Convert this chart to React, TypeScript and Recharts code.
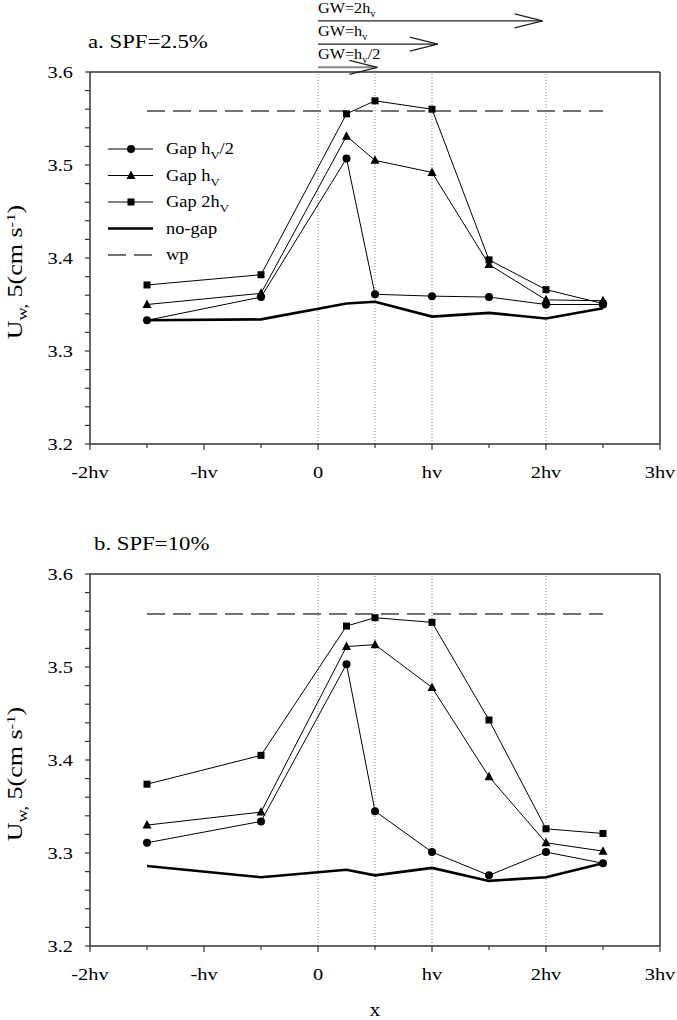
import React from "react";
import { LineChart, Line, XAxis, YAxis, ReferenceLine } from "recharts";

const FONT = '"Liberation Serif", "Times New Roman", serif';
const AXIS = "#333";

// x positions of the profiles, in units of hv
const xPos = [-1.5, -0.5, 0.25, 0.5, 1, 1.5, 2, 2.5];

// a. SPF = 2.5%
const gapHalfA = [3.333, 3.358, 3.507, 3.361, 3.359, 3.358, 3.35, 3.35];
const gapOneA = [3.35, 3.362, 3.531, 3.505, 3.492, 3.393, 3.355, 3.354];
const gapTwoA = [3.371, 3.382, 3.555, 3.569, 3.56, 3.398, 3.366, 3.351];
const noGapA = [3.333, 3.334, 3.351, 3.353, 3.337, 3.341, 3.335, 3.346];
const wpA = [3.558, 3.558, 3.558, 3.558, 3.558, 3.558, 3.558, 3.558];

// b. SPF = 10%
const gapHalfB = [3.311, 3.334, 3.503, 3.345, 3.301, 3.276, 3.301, 3.289];
const gapOneB = [3.33, 3.344, 3.522, 3.524, 3.478, 3.382, 3.311, 3.302];
const gapTwoB = [3.374, 3.405, 3.544, 3.553, 3.548, 3.443, 3.326, 3.321];
const noGapB = [3.286, 3.274, 3.282, 3.276, 3.284, 3.27, 3.274, 3.289];
const wpB = [3.557, 3.557, 3.557, 3.557, 3.557, 3.557, 3.557, 3.557];

const xTicks = [-2, -1.5, -1, -0.5, 0, 0.5, 1, 1.5, 2, 2.5, 3];
const xTickLabels: Record<string, string> = { "-2": "-2hv", "-1": "-hv", "0": "0", "1": "hv", "2": "2hv", "3": "3hv" };
const yLabels = [3.2, 3.3, 3.4, 3.5, 3.6];
const yTicks = Array.from({ length: 21 }, (_, i) => +(3.2 + i * 0.02).toFixed(2));
const gridX = [0, 0.5, 1, 2];

// gap-width arrows above panel a
const gwText = ["2h", "h", "h"];
const gwTail = [0, 0, 0];
const gwTip = [1.97, 1.05, 0.52];
const gwLevel = [3.655, 3.63, 3.605];
const gwColor = ["#222", "#222", "#8a8a8a"];

const makeRows = (h: number[], o: number[], t: number[], n: number[], w: number[]) =>
  xPos.map((x, i) => ({ x, half: h[i], one: o[i], two: t[i], nogap: n[i], wp: w[i] }));

const rowsA = makeRows(gapHalfA, gapOneA, gapTwoA, noGapA, wpA);
const rowsB = makeRows(gapHalfB, gapOneB, gapTwoB, noGapB, wpB);

// the original figure's lettering is a Times face stretched sideways
function SText({ x, y, size, anchor = "start", sx = 1.2, rotate = 0, children }: any) {
  const tr = `translate(${x},${y})${rotate ? ` rotate(${rotate})` : ""} scale(${sx},1)`;
  return (
    <g transform={tr}>
      <text x={0} y={0} textAnchor={anchor} fontSize={size} fontFamily={FONT} fill="#000">
        {children}
      </text>
    </g>
  );
}

const circleDot = (p: any) => <circle key={p.index} cx={p.cx} cy={p.cy} r={4} fill="#000" />;
const squareDot = (p: any) => <rect key={p.index} x={p.cx - 3.5} y={p.cy - 3.5} width={7} height={7} fill="#000" />;
const triDot = (p: any) => (
  <path key={p.index} d={`M${p.cx},${p.cy - 5}L${p.cx + 4.5},${p.cy + 3.5}L${p.cx - 4.5},${p.cy + 3.5}Z`} fill="#000" />
);

const XTick = (p: any) => {
  const v = p.payload.value;
  const major = Number.isInteger(v);
  return (
    <g>
      <line x1={p.x} x2={p.x} y1={p.y} y2={p.y + (major ? 6 : 4)} stroke={AXIS} strokeWidth={1.2} />
      {major && (
        <SText x={p.x} y={p.y + 34} size={17} anchor="middle">
          {xTickLabels[String(v)]}
        </SText>
      )}
    </g>
  );
};

const YTick = (p: any) => {
  const v = p.payload.value;
  const lab = yLabels.find((l) => Math.abs(l - v) < 1e-6);
  return (
    <g>
      <line x1={p.x} x2={p.x - 5} y1={p.y} y2={p.y} stroke={AXIS} strokeWidth={1.2} />
      {lab !== undefined && (
        <SText x={p.x - 17} y={p.y + 6} size={17} anchor="end">
          {lab.toFixed(1)}
        </SText>
      )}
    </g>
  );
};

const YTitle = (p: any) => {
  const vb = p.viewBox;
  return (
    <SText x={22} y={vb.y + vb.height / 2 + 14} size={20} anchor="middle" rotate={-90} sx={1.3}>
      U<tspan fontSize={14} dy={5}>w,</tspan>
      <tspan dy={-5}> 5(cm s</tspan>
      <tspan fontSize={13} dy={-7}>-1</tspan>
      <tspan dy={7}>)</tspan>
    </SText>
  );
};

const XTitle = (p: any) => {
  const vb = p.viewBox;
  return (
    <SText x={vb.x + vb.width / 2} y={vb.y + 70} size={18} anchor="middle">
      x
    </SText>
  );
};

const gwLabel = (i: number) => (p: any) => {
  const vb = p.viewBox;
  return (
    <SText x={vb.x} y={vb.y - 8} size={15} sx={1.08}>
      GW={gwText[i]}
      <tspan fontSize={10} dy={4}>v</tspan>
      {i === 2 && <tspan dy={-4}>/2</tspan>}
    </SText>
  );
};

function Panel({ rows, height, xAxisHeight, showArrows, showX }: any) {
  return (
    <LineChart width={677} height={height} data={rows} margin={{ top: 72, right: 17, left: 0, bottom: 0 }}>
      <XAxis
        dataKey="x"
        type="number"
        domain={[-2, 3]}
        ticks={xTicks}
        interval={0}
        allowDataOverflow
        height={xAxisHeight}
        tickSize={0}
        tickMargin={0}
        tickLine={false}
        tick={<XTick />}
        axisLine={{ stroke: AXIS, strokeWidth: 1.5 }}
        label={showX ? XTitle : undefined}
      />
      <YAxis
        type="number"
        domain={[3.2, 3.6]}
        ticks={yTicks}
        interval={0}
        allowDataOverflow
        width={90}
        tickSize={0}
        tickMargin={0}
        tickLine={false}
        tick={<YTick />}
        axisLine={{ stroke: AXIS, strokeWidth: 1.5 }}
        label={YTitle}
      />
      {gridX.map((g) => (
        <ReferenceLine key={g} x={g} stroke="#888" strokeWidth={1} strokeDasharray="1 2" />
      ))}
      <ReferenceLine y={3.6} stroke={AXIS} strokeWidth={1.5} />
      <ReferenceLine x={3} stroke={AXIS} strokeWidth={1.5} />
      {showArrows &&
        gwTip.map((tip, i) => (
          <ReferenceLine
            key={"gw" + i}
            ifOverflow="visible"
            segment={[{ x: gwTail[i], y: gwLevel[i] }, { x: tip, y: gwLevel[i] }]}
            stroke={gwColor[i]}
            strokeWidth={i === 2 ? 2 : 1.2}
            label={gwLabel(i)}
          />
        ))}
      {showArrows &&
        gwTip.map((tip, i) => (
          <ReferenceLine
            key={"up" + i}
            ifOverflow="visible"
            segment={[{ x: tip - 0.245, y: gwLevel[i] + 0.0075 }, { x: tip, y: gwLevel[i] }]}
            stroke="#222"
            strokeWidth={1.2}
          />
        ))}
      {showArrows &&
        gwTip.map((tip, i) => (
          <ReferenceLine
            key={"dn" + i}
            ifOverflow="visible"
            segment={[{ x: tip - 0.245, y: gwLevel[i] - 0.0075 }, { x: tip, y: gwLevel[i] }]}
            stroke="#222"
            strokeWidth={1.2}
          />
        ))}
      <Line dataKey="wp" stroke="#444" strokeWidth={1.5} strokeDasharray="18 8" dot={false} activeDot={false} isAnimationActive={false} />
      <Line dataKey="nogap" stroke="#000" strokeWidth={2.6} dot={false} activeDot={false} isAnimationActive={false} />
      <Line dataKey="two" stroke="#000" strokeWidth={1} dot={squareDot} activeDot={false} isAnimationActive={false} />
      <Line dataKey="one" stroke="#000" strokeWidth={1} dot={triDot} activeDot={false} isAnimationActive={false} />
      <Line dataKey="half" stroke="#000" strokeWidth={1} dot={circleDot} activeDot={false} isAnimationActive={false} />
    </LineChart>
  );
}

const legendRows = [
  { kind: "circle", text: "Gap h", sub: "V", after: "/2" },
  { kind: "tri", text: "Gap h", sub: "V", after: "" },
  { kind: "square", text: "Gap 2h", sub: "V", after: "" },
  { kind: "thick", text: "no-gap", sub: "", after: "" },
  { kind: "dash", text: "wp", sub: "", after: "" },
];

function Overlay() {
  return (
    <svg width={677} height={1020} style={{ position: "absolute", left: 0, top: 0, pointerEvents: "none" }}>
      <SText x={88} y={48} size={19}>a. SPF=2.5%</SText>
      <SText x={94} y={550} size={19}>b. SPF=10%</SText>
      {legendRows.map((r, i) => {
        const y = 149 + i * 26.5;
        return (
          <g key={r.text + i}>
            {r.kind === "thick" ? (
              <line x1={108} x2={153} y1={y} y2={y} stroke="#000" strokeWidth={2.6} />
            ) : r.kind === "dash" ? (
              <line x1={108} x2={153} y1={y} y2={y} stroke="#444" strokeWidth={1.5} strokeDasharray="18 8" />
            ) : (
              <line x1={108} x2={153} y1={y} y2={y} stroke="#000" strokeWidth={1} />
            )}
            {r.kind === "circle" && circleDot({ cx: 131, cy: y, index: 0 })}
            {r.kind === "tri" && triDot({ cx: 131, cy: y, index: 0 })}
            {r.kind === "square" && squareDot({ cx: 131, cy: y, index: 0 })}
            <SText x={166} y={y + 5} size={16} sx={1.15}>
              {r.text}
              {r.sub && <tspan fontSize={11} dy={5}>{r.sub}</tspan>}
              {r.after && <tspan dy={-5}>{r.after}</tspan>}
            </SText>
          </g>
        );
      })}
    </svg>
  );
}

export default function App() {
  return (
    <div style={{ position: "absolute", left: 0, top: 0, width: 677, height: 1020, background: "#fff" }}>
      <div style={{ position: "absolute", left: 0, top: 0 }}>
        <Panel rows={rowsA} height={500} xAxisHeight={56} showArrows showX={false} />
      </div>
      <div style={{ position: "absolute", left: 0, top: 502 }}>
        <Panel rows={rowsB} height={518} xAxisHeight={74} showArrows={false} showX />
      </div>
      <Overlay />
    </div>
  );
}
